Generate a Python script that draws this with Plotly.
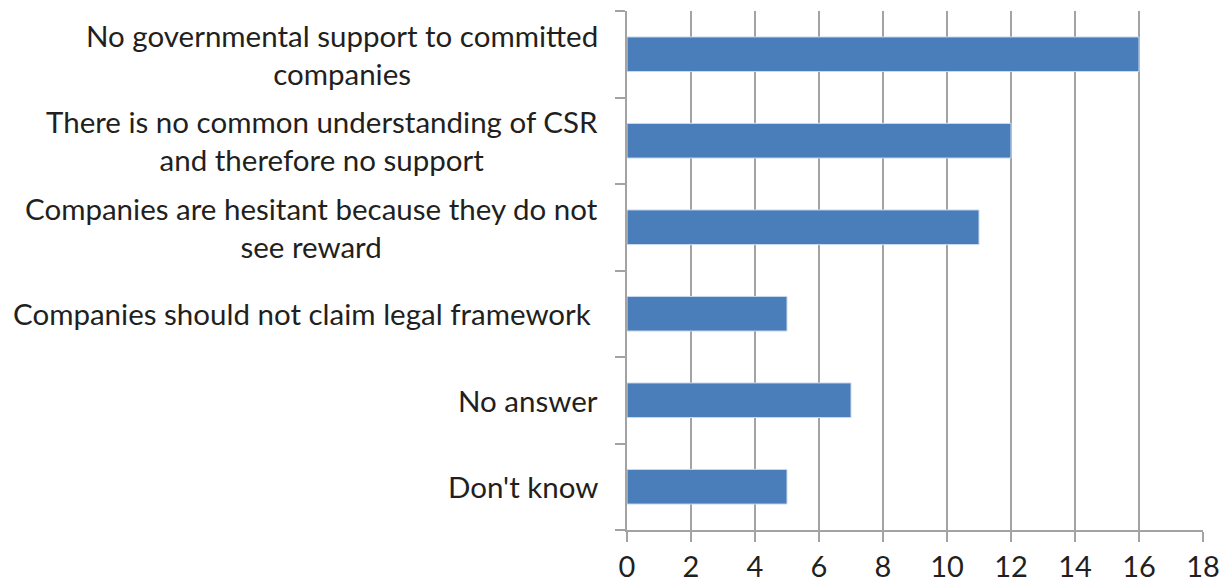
import plotly.graph_objects as go

# Survey responses (count of respondents), listed top to bottom
categories = [
    "No governmental support to committed<br>companies",
    "There is no common understanding of CSR<br>and therefore no support",
    "Companies are hesitant because they do not<br>see reward",
    "Companies should not claim legal framework\u00a0",
    "No answer",
    "Don't know",
]
counts = [16, 12, 11, 5, 7, 5]
x_ticks = [0, 2, 4, 6, 8, 10, 12, 14, 16, 18]

FONT = "Lato"
TEXT = "#231f20"
LINE = "#a3a3a3"
BAR = "#4a7ebb"

fig = go.Figure(
    go.Bar(
        y=categories,
        x=counts,
        orientation="h",
        marker=dict(color=BAR, line=dict(color="#c9daf0", width=1)),
        width=0.4,
    )
)

# Category labels drawn as centred multi-line annotations to the left of the axis
for cat in categories:
    fig.add_annotation(
        x=0, xref="paper", xshift=-27,
        y=cat, yref="y",
        text=cat, showarrow=False,
        xanchor="right", yanchor="middle", align="center",
        font=dict(family=FONT, size=29.5, color=TEXT),
    )

fig.update_layout(
    width=1230, height=584,
    margin=dict(l=627, r=27, t=11, b=54, autoexpand=False),
    paper_bgcolor="white", plot_bgcolor="white",
    showlegend=False,
    xaxis=dict(
        range=[0, 18],
        tickvals=x_ticks,
        ticktext=[str(v) for v in x_ticks],
        showgrid=True, gridcolor=LINE, gridwidth=2,
        zeroline=False,
        showline=True, linecolor=LINE, linewidth=2,
        ticks="outside", ticklen=10, tickwidth=2, tickcolor=LINE,
        ticklabelstandoff=0,
        automargin=False,
        tickfont=dict(family=FONT, size=29, color=TEXT),
    ),
    yaxis=dict(
        categoryorder="array",
        categoryarray=categories[::-1],
        showticklabels=False,
        showgrid=False, zeroline=False,
        showline=True, linecolor=LINE, linewidth=2,
        automargin=False,
        ticks="outside", tickson="boundaries", ticklen=10, tickwidth=2, tickcolor=LINE,
    ),
)

fig.write_html("out.html")
